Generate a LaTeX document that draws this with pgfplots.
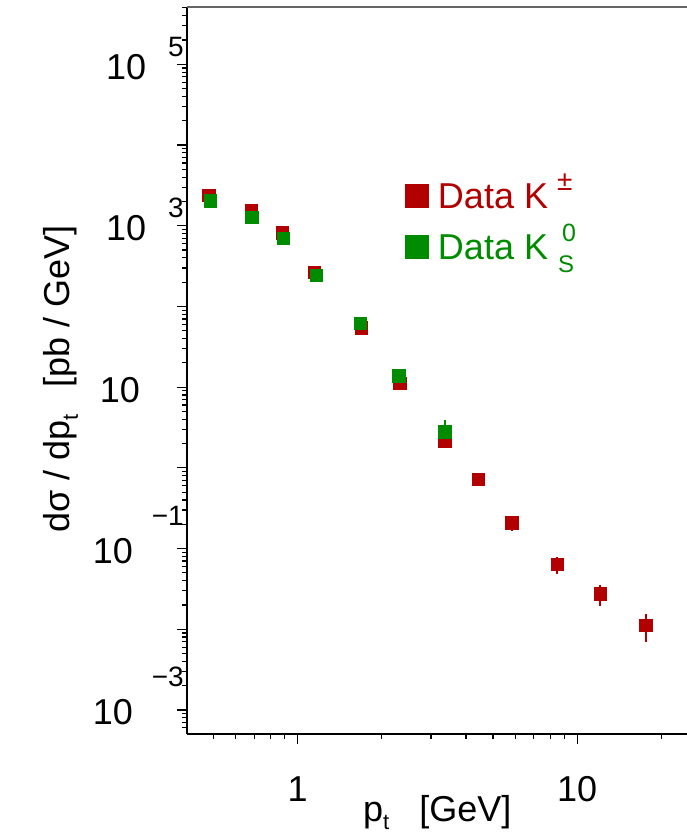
\documentclass[border=0pt]{standalone}
\usepackage{pgfplots}
\pgfplotsset{compat=1.18}
\usepackage{fontspec}
\setmainfont{Liberation Sans}
\definecolor{kred}{RGB}{178,0,0}
\definecolor{kgreen}{RGB}{0,140,0}
\newcommand{\pe}[1]{10\hspace*{22bp}\raisebox{23bp}{\fontsize{28bp}{28bp}\selectfont #1}}
\newcommand{\nex}[1]{10\hspace*{19bp}\raisebox{38bp}{\fontsize{28bp}{28bp}\selectfont −#1}}

\pgfplotstableread{
x y ep em
0.481 2405 60 60
0.682 1553 40 40
0.882 824 20 20
1.144 265 7 7
1.688 54.8 1.5 1.5
2.32 11.1 0.4 0.4
3.36 2.16 0.35 0.4
4.42 0.723 0.13 0.13
5.83 0.2085 0.042 0.042
8.46 0.0635 0.015 0.015
12.06 0.0277 0.008 0.008
17.58 0.0113 0.0043 0.0043
}\kcharged

\pgfplotstableread{
x y ep em
0.486 2036 50 50
0.686 1276 30 30
0.888 698 18 18
1.166 244 6 6
1.677 61.8 1.5 1.5
2.299 13.9 0.4 0.4
3.36 2.81 1.1 0.3
}\kshort

\begin{document}
\begin{tikzpicture}
\begin{axis}[
  name=ax,
  scale only axis, width=500bp, height=727bp,
  xmode=log, ymode=log,
  xmin=0.402, xmax=24.7, ymin=5.04e-4, ymax=5.13e5,
  axis x line*=bottom, axis y line*=left,
  axis line style={-, line width=2bp, black},
  every outer x axis line/.append style={-},
  every outer y axis line/.append style={-},
  tick align=outside,
  major tick length=10bp, minor tick length=5bp,
  every tick/.style={black, line width=1.2bp},
  xtick={1,10}, xticklabels={1,10},
  minor xtick={0.4,0.5,0.6,0.7,0.8,0.9,2,3,4,5,6,7,8,9,20},
  ytick={1e-3,1e-2,1e-1,1,10,100,1e3,1e4,1e5},
  yticklabels={\nex{3},,\nex{1},,10\hspace*{44bp},,\pe{3},,\pe{5}},
  minor ytick={5e-4,6e-4,7e-4,8e-4,9e-4,
    2e-3,3e-3,4e-3,5e-3,6e-3,7e-3,8e-3,9e-3,
    2e-2,3e-2,4e-2,5e-2,6e-2,7e-2,8e-2,9e-2,
    0.2,0.3,0.4,0.5,0.6,0.7,0.8,0.9,
    2,3,4,5,6,7,8,9,
    20,30,40,50,60,70,80,90,
    200,300,400,500,600,700,800,900,
    2e3,3e3,4e3,5e3,6e3,7e3,8e3,9e3,
    2e4,3e4,4e4,5e4,6e4,7e4,8e4,9e4,
    2e5,3e5,4e5,5e5},
  yticklabel style={anchor=base east, inner sep=0pt, xshift=7bp, yshift=-15bp, font=\fontsize{36bp}{36bp}\selectfont},
  xticklabel style={anchor=base, inner sep=0pt, yshift=-58bp, font=\fontsize{36bp}{36bp}\selectfont},
  xlabel={p\raisebox{-8bp}{\fontsize{22bp}{22bp}\selectfont t}\hspace*{30bp}[GeV]},
  ylabel={dσ / dp\raisebox{-8bp}{\fontsize{22bp}{22bp}\selectfont t}\hspace*{27bp}[pb / GeV]},
  every axis x label/.style={at={(axis description cs:0.352,-0.1197)}, anchor=base west, inner sep=0pt, font=\fontsize{36bp}{36bp}\selectfont},
  every axis y label/.style={at={(axis description cs:-0.234,0.2765)}, rotate=90, anchor=base west, inner sep=0pt, font=\fontsize{36bp}{36bp}\selectfont},
  legend style={at={(axis description cs:0.4364,0.7585)}, anchor=north west, draw=none, fill=none, inner sep=0pt, outer sep=0pt,
    font=\fontsize{36bp}{36bp}\selectfont, row sep=25bp, column sep=9.7bp,
    nodes={inner sep=0pt, text height=26bp, text depth=0bp}},
  legend cell align=left,
]
\addplot[only marks, mark=square*, mark size=6.2bp, color=kred, mark options={solid, draw=none, fill=kred},
  legend image code/.code={\fill[kred] (0bp,-11.35bp) rectangle (22.7bp,11.35bp);},
  error bars/.cd, y dir=both, y explicit, error mark=none, error bar style={line width=2bp, kred}]
  table[x=x, y=y, y error plus=ep, y error minus=em] {\kcharged};
\addlegendentry{\textcolor{kred}{Data K\hspace*{9bp}\smash{\raisebox{18bp}{\fontsize{28bp}{28bp}\selectfont ±}}}}
\addplot[only marks, mark=square*, mark size=6.2bp, color=kgreen, mark options={solid, draw=none, fill=kgreen},
  legend image code/.code={\fill[kgreen] (0bp,-11.35bp) rectangle (22.7bp,11.35bp);},
  error bars/.cd, y dir=both, y explicit, error mark=none, error bar style={line width=2bp, kgreen}]
  table[x=x, y=y, y error plus=ep, y error minus=em] {\kshort};
\addlegendentry{\textcolor{kgreen}{Data K\hspace*{10bp}\rlap{\smash{\raisebox{-13bp}{\fontsize{24bp}{24bp}\selectfont S}}}\hspace*{4bp}\smash{\raisebox{18bp}{\fontsize{25bp}{25bp}\selectfont 0}}}}
\end{axis}
\draw[black!60, line width=2bp] (ax.north west) -- (ax.north east);
\pgfresetboundingbox
\path ([shift={(-187bp,-100bp)}]ax.south west) rectangle ([shift={(0bp,7bp)}]ax.north east);
\end{tikzpicture}
\end{document}
